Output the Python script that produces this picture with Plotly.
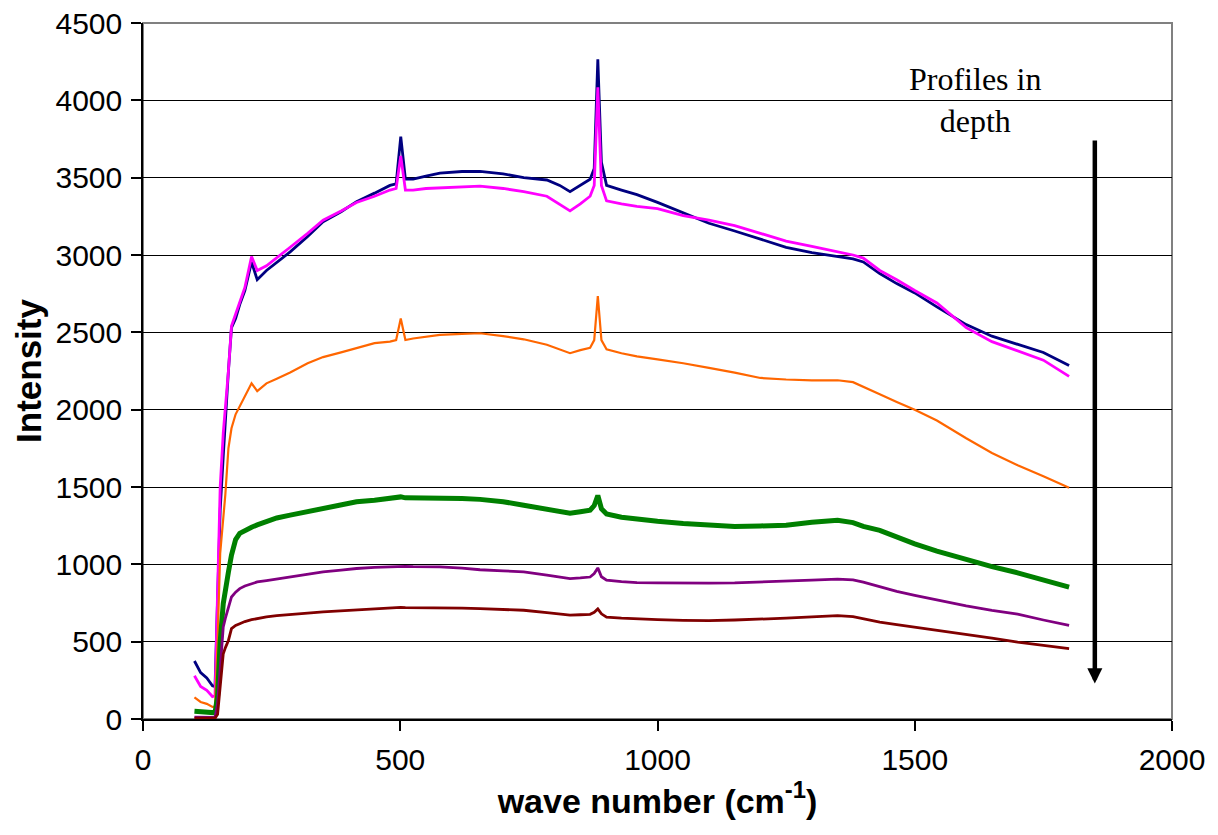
import plotly.graph_objects as go

# wave number (cm^-1), shared sampling for all profiles
wavenumber = [100, 112, 124, 135, 140, 145, 150, 156, 160, 166, 172, 180, 188, 198, 211, 222,
              240, 260, 286, 320, 350, 385, 415, 450, 480, 492, 501, 510, 525, 550, 577, 620,
              655, 700, 740, 785, 810, 830, 850, 869, 877, 884, 891, 901, 930, 960, 1000, 1050,
              1100, 1150, 1200, 1250, 1300, 1350, 1380, 1400, 1432, 1465, 1500, 1543, 1600, 1650,
              1700, 1750, 1800]

profile_1 = [375, 300, 265, 215, 210, 800, 1350, 1700, 1950, 2250, 2530, 2590, 2680, 2770, 2955, 2840,
             2900, 2950, 3020, 3120, 3215, 3280, 3345, 3400, 3450, 3460, 3765, 3490, 3490, 3510, 3530, 3540,
             3540, 3525, 3500, 3485, 3450, 3410, 3450, 3490, 3560, 4265, 3600, 3450, 3420, 3390, 3340, 3270,
             3205, 3155, 3100, 3050, 3015, 2990, 2975, 2955, 2880, 2815, 2755, 2665, 2550, 2475,
             2425, 2370, 2285]

profile_2 = [280, 210, 185, 145, 150, 900, 1500, 1850, 2000, 2250, 2540, 2620, 2700, 2790, 2990, 2900,
             2930, 2980, 3050, 3140, 3225, 3285, 3340, 3380, 3420, 3430, 3640, 3420, 3420, 3430, 3435, 3440,
             3445, 3430, 3410, 3380, 3330, 3285, 3330, 3380, 3450, 4085, 3450, 3350, 3330, 3315, 3300, 3255,
             3225, 3190, 3140, 3090, 3055, 3020, 3000, 2980, 2900, 2840, 2770, 2690, 2530, 2440,
             2380, 2320, 2215]

profile_3 = [140, 110, 98, 78, 80, 500, 1070, 1300, 1450, 1750, 1880, 1970, 2020, 2080, 2170, 2120,
             2170, 2200, 2240, 2300, 2340, 2370, 2400, 2430, 2440, 2450, 2590, 2450, 2460, 2470, 2483, 2490,
             2494, 2475, 2455, 2420, 2390, 2365, 2385, 2400, 2450, 2735, 2450, 2390, 2365, 2345, 2325, 2300,
             2270, 2240, 2205, 2195, 2190, 2190, 2178, 2150, 2100, 2050, 2000, 1930, 1815, 1720,
             1640, 1570, 1495]

profile_4 = [50, 45, 42, 40, 40, 150, 500, 746, 850, 950, 1060, 1160, 1200, 1220, 1240, 1255,
             1280, 1300, 1318, 1340, 1361, 1380, 1404, 1415, 1425, 1430, 1436, 1430, 1430, 1430, 1426, 1425,
             1420, 1405, 1382, 1360, 1345, 1330, 1340, 1350, 1380, 1445, 1360, 1325, 1305, 1290, 1278, 1264,
             1253, 1245, 1248, 1253, 1272, 1285, 1270, 1245, 1220, 1175, 1132, 1085, 1030, 985,
             945, 900, 853]

profile_5 = [12, 11, 10, 10, 10, 100, 350, 595, 650, 720, 789, 820, 843, 860, 875, 886,
             895, 905, 918, 935, 951, 962, 973, 980, 985, 987, 990, 987, 985, 985, 983, 975,
             965, 958, 951, 930, 918, 908, 912, 918, 940, 977, 920, 897, 888, 882, 880, 878,
             878, 880, 885, 890, 898, 905, 900, 885, 853, 825, 800, 770, 732, 703,
             678, 640, 605]

profile_6 = [5, 5, 5, 5, 5, 30, 200, 422, 460, 508, 584, 605, 616, 630, 642, 649,
             660, 668, 677, 685, 692, 700, 707, 712, 718, 720, 722, 720, 720, 720, 720, 717,
             714, 708, 703, 688, 680, 672, 674, 677, 690, 712, 680, 659, 652, 646, 642, 638,
             636, 640, 645, 652, 660, 668, 662, 648, 627, 610, 594, 572, 545, 523,
             497, 478, 455]

series = [
    (profile_1, "#000080", 2.8),
    (profile_2, "#FF00FF", 2.8),
    (profile_3, "#FF6600", 2.2),
    (profile_4, "#008000", 5.0),
    (profile_5, "#800080", 2.8),
    (profile_6, "#800000", 2.8),
]

x_ticks = [0, 500, 1000, 1500, 2000]
y_ticks = [0, 500, 1000, 1500, 2000, 2500, 3000, 3500, 4000, 4500]

fig = go.Figure()
for values, color, width in series:
    fig.add_trace(go.Scatter(x=wavenumber, y=values, mode="lines",
                             line=dict(color=color, width=width), showlegend=False,
                             hoverinfo="skip"))

# plot-area border (grey)
fig.add_shape(type="rect", xref="paper", yref="paper", x0=0, x1=1, y0=0, y1=1,
              line=dict(color="#808080", width=2), layer="below")

# depth arrow
fig.add_annotation(x=1850, y=230, ax=1850, ay=3795, xref="x", yref="y",
                   axref="x", ayref="y", text=" ", showarrow=True,
                   arrowhead=2, arrowsize=0.67, arrowwidth=4.5, arrowcolor="black",
                   standoff=0, startstandoff=0)
fig.add_annotation(x=1617, y=4000, xref="x", yref="y", text="Profiles in<br>depth",
                   showarrow=False, font=dict(family="Liberation Serif, Times New Roman, serif",
                                              size=32, color="black"))

fig.update_layout(
    width=1218, height=835,
    margin=dict(l=143, r=46, t=23, b=116),
    paper_bgcolor="white", plot_bgcolor="white",
    font=dict(family="Liberation Sans, Arial, sans-serif", color="black"),
    xaxis=dict(range=[0, 2000], tickvals=x_ticks, showgrid=False, zeroline=False,
               showline=True, linecolor="black", linewidth=1.5, automargin=False,
               ticks="outside", ticklen=10, tickcolor="black", tickwidth=1.5,
               tickfont=dict(size=30), ticklabelstandoff=3,
               title=dict(text="<b>wave number (cm<sup>-1</sup>)</b>", font=dict(size=34),
                          standoff=14)),
    yaxis=dict(range=[0, 4500], tickvals=y_ticks, showgrid=True, gridcolor="black",
               gridwidth=1.2, zeroline=False, showline=True, linecolor="black", linewidth=1.5,
               automargin=False,
               ticks="outside", ticklen=10, tickcolor="black", tickwidth=1.5,
               tickfont=dict(size=30), ticklabelstandoff=3,
               title=dict(text="<b>Intensity</b>", font=dict(size=35), standoff=3)),
)

fig.write_html("out.html", config={"displayModeBar": False},
               post_script="document.body.style.margin='0';")
